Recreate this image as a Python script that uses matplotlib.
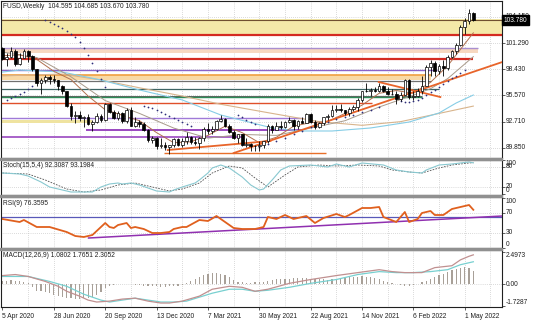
import matplotlib
matplotlib.use("Agg")
import matplotlib.pyplot as plt

W, H = 536, 324
plt.rcParams['font.family'] = ['Liberation Sans', 'DejaVu Sans']
FS = 4.8

# weekly candles, 5 Apr 2020 .. 15 May 2022 (index 0..110)
first_open = 100.7
closes = [99.5, 99.8, 100.4, 99.0, 99.7, 100.4, 99.9, 98.4, 96.9, 97.3,
          97.6, 97.4, 97.2, 96.6, 96.0, 94.4, 93.3, 93.4, 93.1, 93.2,
          92.4, 92.7, 93.3, 92.9, 94.6, 93.8, 93.1, 93.7, 92.8, 94.0,
          92.2, 92.7, 92.4, 91.8, 90.7, 90.9, 90.0, 90.2, 89.9, 90.1,
          90.8, 90.2, 90.6, 91.0, 90.5, 90.4, 90.9, 91.9, 91.7, 91.9,
          92.8, 93.0, 92.2, 91.6, 90.9, 91.3, 90.2, 90.3, 90.0, 90.05,
          90.1, 90.6, 92.2, 91.8, 92.2, 92.1, 92.7, 92.9, 92.2, 92.8,
          92.5, 93.5, 92.7, 92.1, 92.6, 93.2, 93.3, 94.0, 94.1, 94.0,
          93.6, 94.1, 94.3, 95.1, 96.0, 96.05, 96.15, 96.1, 96.6, 96.0,
          95.7, 95.75, 95.2, 95.6, 97.3, 95.4, 95.5, 96.0, 96.6, 98.7,
          99.1, 98.2, 98.8, 98.6, 99.8, 100.4, 101.1, 103.0, 103.7, 104.595,
          103.78]
highs = [100.9, 100.2, 100.9, 100.6, 100.2, 100.6, 100.5, 100.0, 98.5, 97.5,
         97.8, 97.8, 97.8, 97.3, 96.7, 96.1, 94.7, 93.9, 93.9, 93.3,
         93.5, 92.9, 93.6, 93.5, 94.7, 94.7, 94.0, 93.9, 93.8, 94.2,
         94.3, 93.2, 92.9, 92.7, 91.9, 91.1, 91.0, 90.9, 90.5, 90.1,
         90.9, 90.9, 90.9, 91.6, 91.1, 91.0, 91.0, 92.1, 92.5, 92.2,
         92.9, 93.4, 93.1, 92.4, 91.8, 91.4, 91.4, 90.9, 90.4, 90.2,
         90.6, 90.6, 92.4, 92.3, 92.7, 92.8, 92.8, 93.2, 93.0, 92.9,
         93.2, 93.7, 93.6, 92.9, 92.7, 93.2, 93.5, 94.5, 94.5, 94.6,
         94.0, 94.3, 94.5, 95.3, 96.0, 96.9, 96.4, 96.5, 96.9, 96.7,
         96.5, 96.3, 96.1, 95.9, 97.4, 97.4, 96.1, 96.4, 97.7, 98.9,
         99.4, 99.3, 99.0, 99.4, 100.0, 100.5, 101.3, 103.3, 104.0, 105.0,
         104.685]
lows = [99.4, 98.8, 99.6, 98.8, 98.9, 99.6, 99.2, 98.2, 96.6, 95.7,
        96.9, 96.8, 96.9, 96.2, 95.7, 94.3, 92.9, 92.5, 92.8, 92.1,
        92.3, 91.7, 92.5, 92.7, 92.8, 93.6, 93.0, 92.9, 92.6, 92.6,
        92.2, 92.1, 92.1, 91.7, 90.5, 90.4, 89.7, 89.8, 89.6, 89.2,
        89.9, 90.0, 89.9, 90.3, 90.3, 90.1, 89.7, 90.6, 91.4, 91.3,
        91.8, 92.7, 92.1, 91.5, 90.8, 90.4, 90.0, 89.9, 89.5, 89.5,
        89.5, 89.8, 90.4, 91.5, 91.8, 91.9, 92.0, 92.5, 91.8, 91.9,
        92.5, 92.5, 92.6, 91.9, 92.0, 92.3, 92.9, 93.2, 93.8, 93.8,
        93.4, 93.3, 93.9, 93.9, 94.9, 95.9, 95.5, 95.9, 95.9, 95.9,
        95.6, 95.6, 94.6, 95.0, 95.6, 95.2, 95.1, 95.4, 95.7, 96.6,
        97.7, 97.7, 97.9, 97.7, 98.3, 99.6, 100.1, 101.0, 102.3, 103.4,
        103.67]
opens = [first_open] + closes[:-1]

# moving averages (week index, price)
fast_i = [0, 4, 8, 12, 16, 20, 24, 28, 32, 36, 40, 44, 48, 52, 56, 60, 64, 68, 72, 76,
          80, 84, 88, 92, 96, 100, 104, 107, 110]
fast_ma = [99.9, 100.0, 99.5, 98.2, 97.3, 95.5, 94.0, 93.4, 92.8, 91.5, 90.4, 90.5, 91.2, 92.2,
           91.5, 90.4, 91.0, 92.2, 92.6, 92.7, 93.6, 94.5, 95.8, 96.1, 95.8, 97.0, 98.8, 100.6, 102.4]
med_i = [0, 8, 16, 24, 32, 40, 48, 56, 64, 72, 80, 88, 96, 100, 104, 107, 110]
med_ma = [100.3, 99.7, 97.6, 95.0, 93.6, 92.0, 90.9, 91.3, 91.2, 92.0, 92.8, 94.3, 95.6, 96.3,
          97.4, 98.6, 99.8]
blue_i = [0, 4, 14, 23, 32, 42, 51, 63, 70, 77, 86, 95, 102, 106, 110]
blue_ma = [98.12, 98.34, 98.12, 97.25, 96.16, 95.07, 93.43, 92.01, 91.68, 91.68, 92.01, 92.66,
           93.65, 94.74, 95.61]
tan_i = [0, 14, 23, 32, 42, 51, 63, 74, 84, 93, 102, 110]
tan_ma = [97.7, 97.9, 97.25, 96.4, 95.5, 94.6, 93.6, 92.7, 92.3, 92.7, 93.6, 94.4]

# parabolic SAR dots
sar_i = [1, 2, 3, 4, 5, 6, 7,
         10, 11, 12, 13, 14, 15, 16, 17, 18, 19, 20, 21, 22, 23, 24,
         33, 34, 35, 36, 37, 38, 39, 40, 41, 42, 43, 44,
         55, 56, 57, 58, 59,
         60, 62, 64, 66, 68, 70, 72, 74, 76, 78, 80, 82, 84, 86, 88,
         93, 94, 95, 96, 97, 98, 99, 100, 101, 102, 103, 104, 105, 106, 107, 108]
sar = [95.1, 95.3, 95.5, 95.7, 95.9, 96.3, 96.6,
       103.8, 103.58, 103.37, 103.15, 102.93, 102.6, 102.27, 101.94, 101.4, 100.74, 99.98, 99.11,
       98.23, 97.36, 96.48,
       94.41, 94.3, 94.19, 93.97, 93.76, 93.54, 93.32, 93.1, 92.88, 92.66, 92.45, 92.23,
       93.43, 93.21, 92.88, 92.66, 92.45,
       89.93, 90.26, 90.59, 90.92, 91.35, 91.68, 92.12, 92.45, 92.66, 92.99, 93.21, 93.43, 93.76,
       93.97, 94.3,
       94.96, 94.85, 94.85, 94.96, 95.07, 95.28, 95.61, 95.94, 96.16, 96.48, 96.81, 97.14, 97.47,
       97.69, 98.01, 98.34]

# drawn levels: price, start week, end week
level_price = [102.16, 100.80, 99.49, 98.34, 97.80, 97.14, 96.27, 95.45, 95.34, 94.74, 93.15,
               91.79, 91.02, 89.27]
level_from = [0, 0, 0, 0, 0, 0, 0, 0, 0, 0, 0, 20.6, 0, 38.8]
level_to = [117, 111.2, 110, 101.6, 100, 100, 101.9, 98, 98, 86.4, 70.3, 70, 56, 75.5]
level_color = ['#d42a20', '#a98fd0', '#d42a20', '#8a63c8', '#f0a040', '#707070', '#3c6464',
               '#606060', '#2e8b57', '#e0502a', '#a07ad8', '#9a48c0', '#9a48c0', '#e8702a']
level_lw = [1.6, 1.0, 1.6, 1.0, 1.2, 0.9, 0.9, 0.7, 1.0, 1.0, 1.0, 1.4, 1.2, 1.0]
zone_lo = [102.24, 100.25, 97.25, 92.55]
zone_hi = [103.86, 100.80, 97.80, 92.88]
zone_to = [117, 111.2, 100, 21]
zone_color = ['#f4e9a8', '#f7d8c0', '#f8d9a6', '#efe3a0']

trend_x = [[54, 116.8], [87.9, 102.3], [38.6, 62.6]]
trend_y = [[89.27, 99.22], [97.03, 95.39], [89.6, 90.59]]

price_ticks = [104.150, 101.290, 98.430, 95.570, 92.710, 89.850]
last_close = 103.780

# lower panels (week index, value)
stoch_main_i = [0, 4, 6, 9, 11, 14, 16, 18, 21, 23, 25, 27, 28, 30, 32, 34, 36, 39, 40, 42, 45, 46,
                48, 49, 51, 53, 56, 58, 60, 61, 63, 65, 67, 72, 76, 78, 81, 84, 89, 92, 95, 98,
                99, 102, 105, 109, 110]
stoch_main = [62, 59, 53, 35, 20, 11, 5, 5, 5, 20, 29, 32, 29, 32, 26, 17, 8, 5, 11, 20, 32, 41,
              62, 77, 86, 77, 50, 26, 11, 14, 41, 71, 83, 86, 80, 89, 80, 92, 86, 71, 65, 62,
              71, 86, 89, 95, 92.3]
stoch_sig_i = [0, 6, 10, 15, 19, 23, 27, 31, 35, 39, 42, 46, 49, 53, 56, 59, 62, 66, 69, 74, 78,
               83, 88, 91, 95, 98, 102, 105, 109, 110]
stoch_sig = [62, 59, 41, 14, 5, 11, 26, 32, 20, 8, 14, 32, 62, 83, 77, 47, 20, 56, 80, 86, 83,
             86, 83, 71, 65, 62, 77, 86, 92, 93.2]

rsi_i = [0, 4, 5, 8, 11, 15, 17, 19, 21, 24, 25, 26, 27, 29, 30, 31, 33, 35, 37, 39, 40, 42, 43,
         46, 48, 50, 52, 54, 56, 59, 61, 62, 64, 66, 68, 71, 73, 75, 78, 80, 81, 84, 86, 88, 89,
         92, 94, 95, 97, 98, 100, 101, 103, 104, 105, 107, 108, 109, 110]
rsi = [58, 52, 56, 42, 42, 32, 24, 22, 26, 50, 42, 40, 46, 50, 40, 42, 38, 30, 30, 32, 38, 42, 42,
       56, 54, 64, 52, 40, 38, 38, 42, 62, 58, 66, 58, 64, 50, 60, 68, 62, 66, 80, 80, 82, 62,
       52, 72, 52, 58, 70, 74, 66, 66, 72, 78, 82, 84, 86, 76.4]
rsi_level = 62
rsi_trend_x = [20.1, 116.8]
rsi_trend_y = [20, 64]

macd_i = [0, 3, 6, 10, 13, 15, 18, 20, 22, 25, 28, 31, 34, 37, 39, 42, 46, 49, 53, 56, 59, 62,
          67, 72, 78, 83, 88, 91, 94, 98, 101, 105, 107, 109, 110]
macd_main = [0.69, 0.77, 0.62, 0.23, -0.15, -0.54, -0.92, -1.23, -1.38, -1.31, -1.15, -1.08,
             -1.31, -1.46, -1.46, -1.31, -0.92, -0.38, -0.15, -0.23, -0.54, -0.38, 0.08, 0.38,
             0.69, 0.92, 1.15, 1.0, 0.92, 0.92, 1.31, 1.46, 1.92, 2.2, 2.31]
macd_sig_i = [0, 6, 11, 15, 19, 23, 25, 28, 31, 34, 37, 40, 43, 46, 49, 53, 56, 59, 62, 67, 72,
              78, 83, 88, 92, 96, 100, 104, 107, 110]
macd_sig = [0.62, 0.62, 0.23, -0.15, -0.77, -1.23, -1.38, -1.23, -1.08, -1.23, -1.38, -1.38,
            -1.31, -1.0, -0.69, -0.38, -0.38, -0.54, -0.46, -0.23, 0.08, 0.38, 0.77, 1.0, 0.92,
            0.92, 1.0, 1.15, 1.54, 1.77]
macd_hist = [0.3, 0.3, 0.35, 0.3, 0.25, 0.2, 0.1, -0.2, -0.5, -0.55,
             -0.6, -0.7, -0.8, -0.9, -1.0, -1.05, -1.1, -1.15, -1.15, -1.1,
             -1.05, -1.0, -0.8, -0.6, -0.3, -0.1, -0.05, 0.0, 0.05, 0.05,
             0.0, -0.05, -0.05, -0.1, -0.1, -0.15, -0.15, -0.2, -0.2, -0.15,
             -0.15, -0.1, -0.05, 0.1, 0.25, 0.4, 0.55, 0.7, 0.8, 0.9,
             0.9, 0.85, 0.7, 0.55, 0.35, 0.2, 0.15, 0.1, 0.1, 0.15,
             0.15, 0.2, 0.3, 0.35, 0.4, 0.4, 0.45, 0.45, 0.5, 0.5,
             0.5, 0.5, 0.45, 0.45, 0.4, 0.4, 0.35, 0.4, 0.45, 0.5,
             0.55, 0.6, 0.6, 0.6, 0.65, 0.6, 0.55, 0.5, 0.4, 0.3,
             0.2, 0.1, 0.0, -0.05, -0.1, -0.1, -0.05, 0.05, 0.15, 0.3,
             0.4, 0.55, 0.7, 0.85, 1.0, 1.1, 1.2, 1.3, 1.35, 1.3,
             1.08]

date_i = [0, 12, 24, 36, 48, 60, 72, 84, 96, 108]
date_labels = ['5 Apr 2020', '28 Jun 2020', '20 Sep 2020', '13 Dec 2020', '7 Mar 2021',
               '30 May 2021', '22 Aug 2021', '14 Nov 2021', '6 Feb 2022', '1 May 2022']
grid_i = list(range(6, 117, 6))

fig = plt.figure(figsize=(W / 100, H / 100), dpi=100)
fig.patch.set_facecolor('white')


def panel(top, bottom):
    ax = fig.add_axes([1 / W, 1 - bottom / H, 501 / W, (bottom - top) / H])
    ax.set_xlim(-0.35, 116.7)
    for s in ax.spines.values():
        s.set_color('#202020')
        s.set_linewidth(0.8)
    ax.tick_params(axis='y', right=True, left=False, labelright=False, labelleft=False,
                   length=2, width=0.5, colors='#202020')
    ax.tick_params(axis='x', bottom=False, labelbottom=False)
    for g in grid_i:
        ax.axvline(g, color='#b8b8b8', lw=0.5, ls=(0, (1, 2)), zorder=0)
    return ax


def right_labels(ax, values, labels, aligns):
    ax.set_yticks(values)
    for v, s, va in zip(values, labels, aligns):
        ax.text(1.007, v, s, transform=ax.get_yaxis_transform(), fontsize=FS, va=va,
                ha='left', color='#202020', clip_on=False)


# separators between panels
for y0 in [158, 195, 248]:
    fig.patches.append(plt.Rectangle((0, 1 - (y0 + 2) / H), 502 / W, 2 / H,
                                     transform=fig.transFigure, color='#909090'))

# ---- main price panel
ax = panel(1, 158)
ax.set_ylim(88.73, 105.88)
right_labels(ax, price_ticks, ['%.3f' % t for t in price_ticks], ['center'] * 6)
for t in price_ticks:
    ax.axhline(t, color='#b8b8b8', lw=0.5, ls=(0, (1, 2)), zorder=0)

for lo, hi, to, c in zip(zone_lo, zone_hi, zone_to, zone_color):
    ax.fill_between([-1, to], lo, hi, color=c, lw=0, zorder=1)
for p, a, b, c, w in zip(level_price, level_from, level_to, level_color, level_lw):
    ax.hlines(p, a - 1, b, color=c, lw=w, zorder=2)
ax.axhline(last_close, color='#705030', lw=0.8, zorder=2)

ax.plot(tan_i, tan_ma, color='#d8b48c', lw=0.8, zorder=3)
ax.plot(blue_i, blue_ma, color='#86cde6', lw=0.8, zorder=3)
ax.plot(med_i, med_ma, color='#a89a8a', lw=0.7, zorder=3)
ax.plot(fast_i, fast_ma, color='#b0704e', lw=0.7, zorder=3)

for xs, ys in zip(trend_x, trend_y):
    ax.plot(xs, ys, color='#e8642a', lw=1.3, zorder=4)

ax.scatter(sar_i, sar, s=1.6, color='#2e2e7a', zorder=4, lw=0)

for i in range(len(closes)):
    o, c = opens[i], closes[i]
    ax.vlines(i, lows[i], highs[i], color='black', lw=0.6, zorder=5)
    lo_b, hi_b = min(o, c), max(o, c)
    hgt = max(hi_b - lo_b, 0.05)
    ax.bar(i, hgt, bottom=lo_b, width=0.62, color='white' if c >= o else 'black',
           edgecolor='black', lw=0.5, zorder=6)

ax.text(0.004, 0.985, 'FUSD,Weekly  104.595 104.685 103.670 103.780', transform=ax.transAxes,
        fontsize=FS, va='top', ha='left', color='#202020', zorder=8)
ax.text(1.004, last_close, '%.3f' % last_close, transform=ax.get_yaxis_transform(),
        fontsize=FS, va='center', ha='left', color='white', zorder=9, clip_on=False,
        bbox=dict(boxstyle='square,pad=0.25', fc='black', ec='black'))

# ---- stochastic
ax1 = panel(160, 195)
ax1.set_ylim(-4, 101)
right_labels(ax1, [100, 80, 20, 0], ['100', '80', '20', '0'], ['top', 'center', 'center', 'bottom'])
for lv in [80, 20]:
    ax1.axhline(lv, color='#b8b8b8', lw=0.5, ls=(0, (1, 2)), zorder=0)
ax1.plot(stoch_sig_i, stoch_sig, color='#505050', lw=0.6, ls=(0, (2, 1.5)))
ax1.plot(stoch_main_i, stoch_main, color='#88c8d0', lw=0.8)
ax1.text(0.004, 0.94, 'Stoch(15,5,4) 92.3087 93.1984', transform=ax1.transAxes, fontsize=FS,
         va='top', ha='left', color='#202020')

# ---- RSI
ax2 = panel(197, 248)
ax2.set_ylim(0, 102)
right_labels(ax2, [100, 70, 30, 0], ['100', '70', '30', '0'], ['top', 'center', 'center', 'bottom'])
for lv in [70, 30]:
    ax2.axhline(lv, color='#b8b8b8', lw=0.5, ls=(0, (1, 2)), zorder=0)
ax2.axhline(rsi_level, color='#5858b8', lw=0.9)
ax2.plot(rsi_trend_x, rsi_trend_y, color='#9030b0', lw=1.1)
ax2.plot(rsi_i, rsi, color='#e0601e', lw=1.3)
ax2.text(0.004, 0.94, 'RSI(9) 76.3595', transform=ax2.transAxes, fontsize=FS,
         va='top', ha='left', color='#202020')

# ---- MACD
ax3 = panel(250, 307)
ax3.set_ylim(-1.77, 2.69)
right_labels(ax3, [2.4973, 0.0, -1.7287], ['2.4973', '0.00', '-1.7287'], ['top', 'center', 'bottom'])
ax3.axhline(0, color='#b8b8b8', lw=0.5, ls=(0, (1, 2)), zorder=0)
ax3.bar(range(len(macd_hist)), macd_hist, width=0.28, color='#a8a098', lw=0)
ax3.plot(macd_sig_i, macd_sig, color='#78d0d0', lw=0.9)
ax3.plot(macd_i, macd_main, color='#c09090', lw=0.9)
ax3.text(0.004, 0.96, 'MACD(12,26,9) 1.0802 1.7651 2.3052', transform=ax3.transAxes,
         fontsize=FS, va='top', ha='left', color='#202020')
ax3.tick_params(axis='x', bottom=True, labelbottom=True, labelsize=FS, length=2, width=0.5,
                pad=2, colors='#202020')
ax3.set_xticks(date_i)
ax3.set_xticklabels(date_labels, ha='left')

fig.savefig('out.png', dpi=100, facecolor='white')
